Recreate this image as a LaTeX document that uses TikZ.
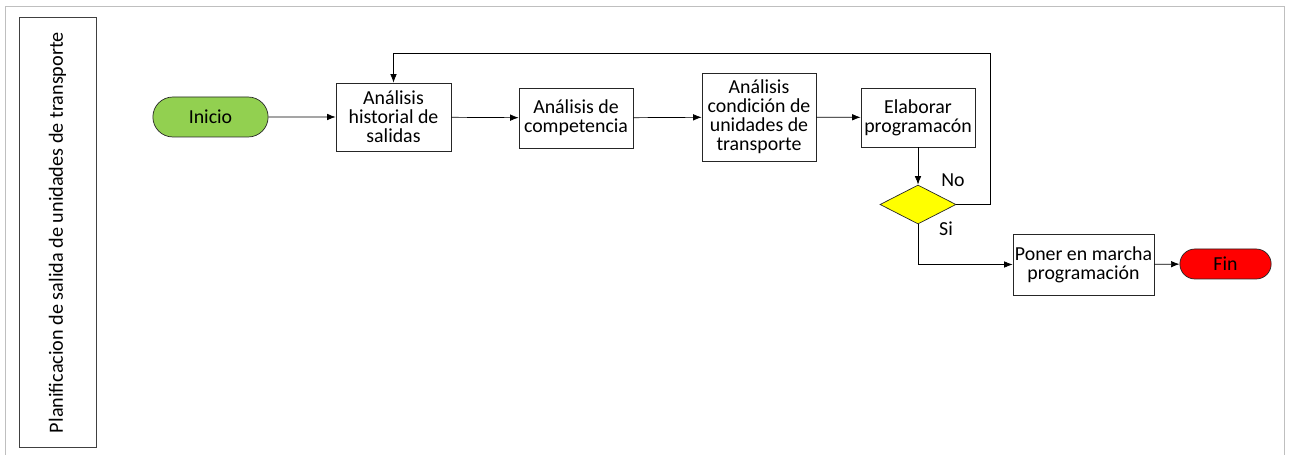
\documentclass[tikz,border=0pt]{standalone}
\usepackage{fontspec}
\setmainfont{Carlito}
\usepackage{xcolor}
\usetikzlibrary{shapes, arrows.meta, positioning, calc}
\definecolor{inigreen}{HTML}{92D050}
\definecolor{finred}{HTML}{FF0000}
\definecolor{decyellow}{HTML}{FFFF00}
\definecolor{framegray}{HTML}{BFBFBF}
\tikzset{
    proceso/.style={
        rectangle,
        draw=black!85,
        align=center,
        inner sep=1pt,
        minimum width=2.28cm,
        font=\fontsize{11.3}{10.8}\selectfont,
    },
    terminal/.style={
        rounded rectangle,
        draw=black!85,
        font=\fontsize{11.3}{10.8}\selectfont,
    },
    decision/.style={
        diamond,
        draw=black!85,
        fill=decyellow,
        inner sep=0pt,
        minimum width=1.52cm,
        minimum height=0.78cm,
    },
    etiqueta/.style={
        font=\fontsize{11.3}{10.8}\selectfont,
    },
}

\begin{document}
\begin{tikzpicture}[x=0.02cm, y=-0.02cm, >={Latex[length=1.7mm,width=1.3mm]}, auto]
      \useasboundingbox (0,0) rectangle (1291,455);
      \draw[framegray] (5,458) -- (5,6) -- (1284,6) -- (1284,458);

      \node [draw=black!75, minimum width=8.6cm, minimum height=1.54cm, rotate=90,
             font=\fontsize{11.5}{11}\selectfont] (lane) at (57.5,232.5)
             {Planificacion de salida de unidades de transporte};

      \node [terminal, fill=inigreen, minimum width=2.54cm, minimum height=0.8cm] (inicio) at (210.5,117) {Inicio};
      \node [proceso, minimum width=2.3cm, minimum height=1.36cm] (historial) at (393.5,117) {Análisis\\ historial de\\ salidas};
      \node [proceso, minimum height=1.2cm] (competencia) at (576,118) {Análisis de\\ competencia};
      \node [proceso, minimum height=1.76cm] (condicion) at (759,117) {Análisis\\ condición de\\ unidades de\\ transporte};
      \node [proceso, minimum height=1.18cm] (elaborar) at (918,117.5) {Elaborar\\ programacón};
      \node [decision] (dec) at (918,204.5) {};
      \node [proceso, minimum width=2.82cm, minimum height=1.22cm] (marcha) at (1083.5,264.5) {Poner en marcha\\ programación};
      \node [terminal, fill=finred, minimum width=2.06cm, minimum height=0.6cm] (fin) at (1225.5,264) {Fin};

      \node [etiqueta] (no) at (953,180) {No};
      \node [etiqueta] (si) at (946,229) {Si};
      \coordinate (retorno) at (990,53);

      \path[->] (inicio) edge (historial);
      \path[->] (historial) edge (competencia);
      \path[->] (competencia) edge (condicion);
      \path[->] (condicion) edge (elaborar);
      \path[->] (elaborar) edge (dec);
      \draw[->] (dec.east) -| (retorno) -| (historial.north);
      \draw[->] (dec.south) |- (marcha.west);
      \path[->] (marcha) edge (fin);
    \end{tikzpicture}
\end{document}
